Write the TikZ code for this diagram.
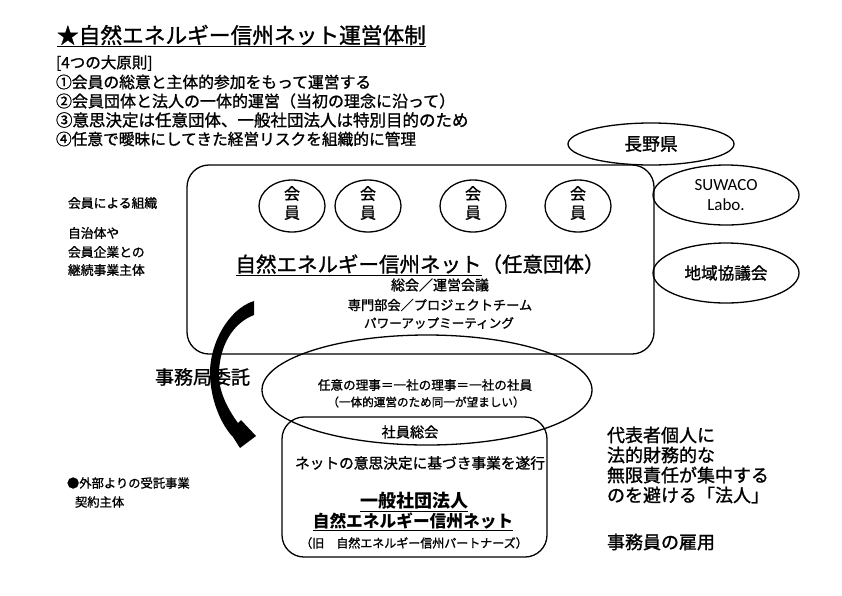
\documentclass[tikz,border=0pt]{standalone}
\usepackage{fontspec}
\setmainfont{Noto Sans CJK JP}[UprightFeatures={FakeBold=1.2}]
\newfontfamily\latinf{Carlito}
\usetikzlibrary{shapes.geometric}
\newcommand\fsz[1]{\fontsize{#1}{#1}\selectfont}
\tikzset{
  txt/.style={inner sep=0pt, outer sep=0pt},
  oval/.style={draw, ellipse, line width=1.3pt, inner sep=0pt},
  box/.style={draw, rounded corners=22pt, line width=1.3pt, inner sep=0pt},
}
\begin{document}
\begin{tikzpicture}[x=1pt,y=-1pt]
\useasboundingbox (0,0) rectangle (842,595);
\fill[white] (0,0) rectangle (842,595);
% title and principles
\node[txt, anchor=west, font=\fsz{21.7}] (title) at (57,36) {\underline{★自然エネルギー信州ネット運営体制}};
\node[txt, anchor=west, font=\fsz{15.5}] (p0) at (56,63) {[4つの大原則]};
\node[txt, anchor=west, font=\fsz{15.8}] (p1) at (56,82) {①会員の総意と主体的参加をもって運営する};
\node[txt, anchor=west, font=\fsz{16}] (p2) at (56,101) {②会員団体と法人の一体的運営（当初の理念に沿って）};
\node[txt, anchor=west, font=\fsz{16.5}] (p3) at (56,120) {③意思決定は任意団体、一般社団法人は特別目的のため};
\node[txt, anchor=west, font=\fsz{15.7}] (p4) at (56,139) {④任意で曖昧にしてきた経営リスクを組織的に管理};
% left labels
\node[txt, anchor=west, font=\fsz{12.8}] (l1) at (68,203) {会員による組織};
\node[txt, anchor=west, font=\fsz{12.8}] (l2) at (68,233) {自治体や};
\node[txt, anchor=west, font=\fsz{12.8}] (l3) at (68,252) {会員企業との};
\node[txt, anchor=west, font=\fsz{12.8}] (l4) at (68,270) {継続事業主体};
\node[txt, anchor=west, font=\fsz{12.3}] (l5) at (67,483) {●外部よりの受託事業};
\node[txt, anchor=west, font=\fsz{12.3}] (l6) at (75,502) {契約主体};
% main rounded box
\node[box, minimum width=467pt, minimum height=189pt] (main) at (420.5,259.5) {};
\foreach \i/\xx in {1/292,2/368,3/473,4/578}{
  \node[oval, minimum width=66pt, minimum height=52pt] (m\i) at (\xx,206) {};
  \node[txt, font=\fsz{16}, align=center] (mt\i) at (\xx,203) {会\\[3pt]員};
}
\node[txt, font=\fsz{20.5}] (mainname) at (420,265) {\underline{自然エネルギー信州ネット}（任意団体）};
\node[txt, font=\fsz{14}] (s1) at (440,285) {総会／運営会議};
\node[txt, font=\fsz{13.2}] (s2) at (440,305) {専門部会／プロジェクトチーム};
\node[txt, font=\fsz{12.6}] (s3) at (439,323) {パワーアップミーティング};
% right ellipses
\node[oval, minimum width=166pt, minimum height=42pt, font=\fsz{17.8}] (nagano) at (651,144) {長野県};
\node[oval, minimum width=146pt, minimum height=60pt, font=\latinf\fsz{17}, align=center] (suwaco) at (726,195) {SUWACO\\[3pt]Labo.};
\node[oval, minimum width=146pt, minimum height=60pt, font=\fsz{16.6}] (chiiki) at (726,273) {地域協議会};
% middle ellipse
\node[oval, minimum width=330pt, minimum height=110pt] (riji) at (427,390) {};
\node[txt, font=\fsz{12.6}] (r1) at (425,385) {任意の理事＝一社の理事＝一社の社員};
\node[txt, font=\fsz{11.6}] (r2) at (426,402) {（一体的運営のため同一が望ましい）};
% bottom box
\node[box, minimum width=265pt, minimum height=140pt] (corp) at (414.5,487) {};
\node[txt, font=\fsz{14.2}] (c1) at (410,432) {社員総会};
\node[txt, font=\fsz{14.7}] (c2) at (420,463) {ネットの意思決定に基づき事業を遂行};
\node[txt, font=\bfseries\fsz{18}] (c3) at (414,502) {\underline{一般社団法人}};
\node[txt, font=\bfseries\fsz{16.7}] (c4) at (413,522) {\underline{自然エネルギー信州ネット}};
\node[txt, font=\fsz{12}] (c5) at (414,543) {（旧　自然エネルギー信州パートナーズ）};
% delegation label and arrow
\node[txt, anchor=west, font=\fsz{19}] (jimu) at (155,377) {事務局委託};
\fill[black] (254,301) .. controls (228,309) and (209,345) .. (210,375)
  .. controls (211,405) and (224,428) .. (233,437)
  -- (240,448) -- (256,436) -- (241,420) -- (238,423)
  .. controls (227,408) and (218,390) .. (219,372)
  .. controls (220,345) and (233,323) .. (254,315) -- cycle;
% right notes
\node[txt, anchor=west, font=\fsz{18}] (n1) at (607,435) {代表者個人に};
\node[txt, anchor=west, font=\fsz{18}] (n2) at (607,455) {法的財務的な};
\node[txt, anchor=west, font=\fsz{18}] (n3) at (607,475) {無限責任が集中する};
\node[txt, anchor=west, font=\fsz{18}] (n4) at (607,495) {のを避ける「法人」};
\node[txt, anchor=west, font=\fsz{18}] (n5) at (607,542) {事務員の雇用};
\end{tikzpicture}
\end{document}
